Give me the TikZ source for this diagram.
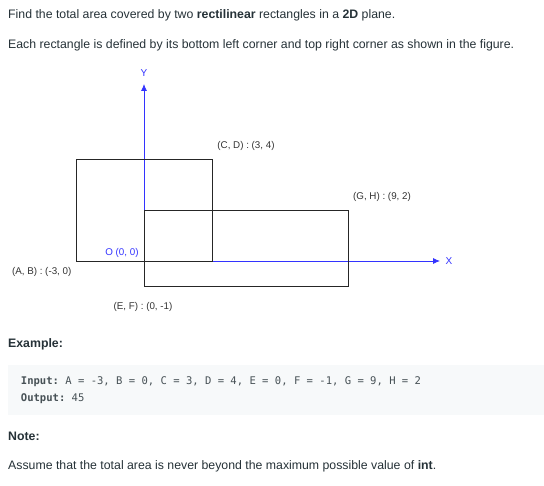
\documentclass[tikz,border=0pt]{standalone}
\usepackage{fontspec}
\setmainfont{Liberation Sans}
\setmonofont{DejaVu Sans Mono}
\usetikzlibrary{arrows.meta}
\definecolor{txt}{HTML}{263238}
\definecolor{axisblue}{HTML}{3333FF}
\definecolor{codebg}{HTML}{F7F9FA}
\definecolor{lbl}{HTML}{333333}
\tikzset{
  x=1bp, y=-1bp,
  body/.style={anchor=west, inner sep=0pt, text=txt, font=\fontsize{12.3bp}{14bp}\selectfont},
  code/.style={anchor=west, inner sep=0pt, text=txt!85, font=\ttfamily\fontsize{10.55bp}{12bp}\selectfont},
  lab/.style={inner sep=0pt, text=lbl, font=\fontsize{9.8bp}{11bp}\selectfont},
  rectl/.style={draw=black!85, line width=0.8bp},
  axisl/.style={draw=axisblue, line width=0.8bp, -{Latex[length=7bp,width=6bp]}},
}
\begin{document}
\begin{tikzpicture}
\useasboundingbox[fill=white] (0,0) rectangle (544,486);
% texts
\node[body] (t1) at (8,15) {Find the total area covered by two \textbf{rectilinear} rectangles in a \textbf{2D} plane.};
\node[body] (t2) at (8,45.5) {Each rectangle is defined by its bottom left corner and top right corner as shown in the figure.};
% axes
\coordinate (O) at (144,261);
\coordinate (ytip) at (144,84);
\coordinate (xtip) at (440,261);
\draw[axisl] (O) -- (ytip);
\draw[axisl] (O) -- (xtip);
\node[inner sep=0pt, text=axisblue, font=\fontsize{10bp}{11bp}\selectfont] (ylab) at (144,73) {Y};
\node[inner sep=0pt, text=axisblue, font=\fontsize{10bp}{11bp}\selectfont] (xlab) at (449,261.5) {X};
% rectangles
\draw[rectl] (76.3,261) rectangle (212.3,159);
\draw[rectl] (144,286.3) rectangle (348.3,210.3);
% labels
\node[lab, text=axisblue] (olab) at (122,252.7) {O (0, 0)};
\node[lab] (ab) at (41.7,272) {(A, B) : (-3, 0)};
\node[lab] (ef) at (143,307) {(E, F) : (0, -1)};
\node[lab] (cd) at (246,146) {(C, D) : (3, 4)};
\node[lab] (gh) at (382,196.7) {(G, H) : (9, 2)};
% example
\node[body, font=\bfseries\fontsize{12.3bp}{14bp}\selectfont] (ex) at (8,344) {Example:};
\fill[codebg] (8,365) rectangle (544,415);
\node[code] (in) at (20.7,382) {\textbf{Input:} A = -3, B = 0, C = 3, D = 4, E = 0, F = -1, G = 9, H = 2};
\node[code] (out) at (20.7,399) {\textbf{Output:} 45};
\node[body, font=\bfseries\fontsize{12.3bp}{14bp}\selectfont] (note) at (8,436) {Note:};
\node[body] (t3) at (8,466) {Assume that the total area is never beyond the maximum possible value of \textbf{int}.};
\end{tikzpicture}
\end{document}
